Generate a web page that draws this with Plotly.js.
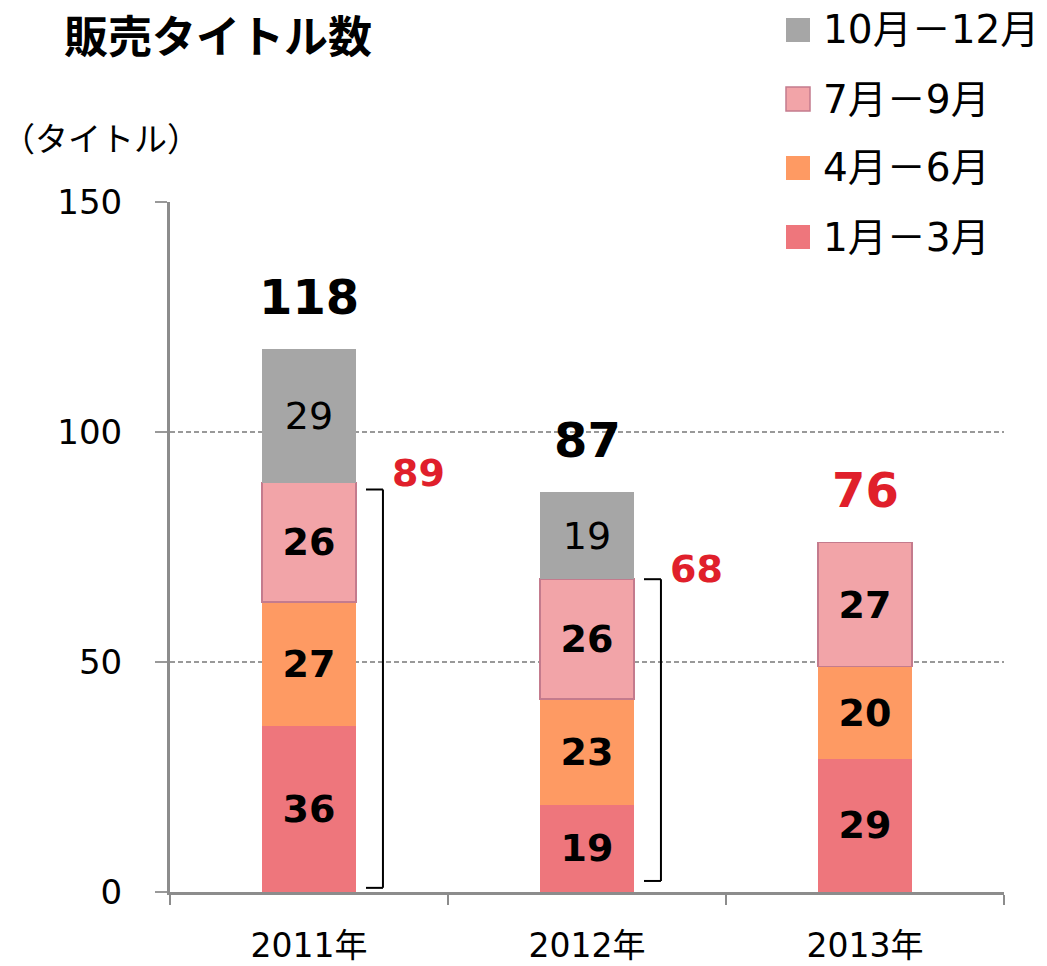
<!DOCTYPE html>
<html>
<head>
<meta charset="utf-8">
<script src="https://cdn.plot.ly/plotly-3.0.1.min.js"></script>
<style>html,body{margin:0;padding:0;background:#fff;}</style>
</head>
<body>
<div id="chart" style="width:1047px;height:966px;"></div>
<script>
// ---- data ----
const years = ['2011年', '2012年', '2013年'];
const q1 = [36, 19, 29];          // 1月－3月
const q2 = [27, 23, 20];          // 4月－6月
const q3 = [26, 26, 27];          // 7月－9月
const q4 = [29, 19, null];        // 10月－12月
const totals = [118, 87, 76];
const janToSep = [89, 68, null];
const seriesNames = ['1月－3月', '4月－6月', '7月－9月', '10月－12月'];
const chartTitle = '販売タイトル数';
const unitLabel = '（タイトル）';

// ---- styles ----
const colors = ['#ee767c', '#fe9a63', '#f2a4a8', '#a6a6a6'];
const borders = ['#ee767c', '#fe9a63', '#c47b8d', '#a6a6a6'];
const bold = [true, true, true, false];
const RED = '#e01f2b';
const NUM_FONT = 'DejaVu Sans, Noto Sans CJK JP, sans-serif';
const JP_FONT = 'Noto Sans CJK JP, sans-serif';

const series = [q1, q2, q3, q4];
const traces = series.map((vals, i) => ({
  type: 'bar',
  x: years,
  y: vals,
  name: seriesNames[i],
  marker: {color: colors[i], line: {color: borders[i], width: i === 2 ? 1.5 : 0}},
  text: vals.map(v => v == null ? '' : String(v)),
  texttemplate: '%{text}',
  textposition: 'inside',
  insidetextanchor: 'middle',
  textangle: 0,
  constraintext: 'none',
  textfont: {family: NUM_FONT, size: 38, color: '#000', weight: bold[i] ? 'bold' : 'normal'},
  showlegend: false,
  hoverinfo: 'skip'
}));

// plot area in pixels: x 170..1004, y 202..892
const L = 170, R = 1004, T = 202, B = 892;
const px = x => (x - L) / (R - L);
const py = y => (B - y) / (B - T);

const annotations = [];
const shapes = [];

// totals above bars
totals.forEach((t, i) => {
  annotations.push({
    x: i, y: t, xref: 'x', yref: 'y', text: String(t), showarrow: false,
    yshift: 52, yanchor: 'middle', xanchor: 'center',
    font: {family: NUM_FONT, size: 48, color: q4[i] == null ? RED : '#000', weight: 'bold'}
  });
});

// brackets for Jan-Sep sums
janToSep.forEach((v, i) => {
  if (v == null) return;
  const xa = i + 0.205, xb = i + 0.266;
  const top = i === 0 ? v - 1.5 : v;
  const bot = i === 0 ? 0.9 : 2.4;
  const ln = {color: '#000', width: 2};
  shapes.push({type: 'line', xref: 'x', yref: 'y', x0: xa, x1: xb, y0: top, y1: top, line: ln});
  shapes.push({type: 'line', xref: 'x', yref: 'y', x0: xb, x1: xb, y0: top, y1: bot, line: ln});
  shapes.push({type: 'line', xref: 'x', yref: 'y', x0: xa, x1: xb, y0: bot, y1: bot, line: ln});
  annotations.push({
    x: i + 0.395, y: v, xref: 'x', yref: 'y', text: String(v), showarrow: false,
    yshift: 10, yanchor: 'middle', xanchor: 'center',
    font: {family: NUM_FONT, size: 38, color: RED, weight: 'bold'}
  });
});

// custom legend (top item = last series)
const rowY = [30, 99, 168, 237];
for (let k = 0; k < 4; k++) {
  const si = 3 - k;
  const cy = rowY[k];
  shapes.push({
    type: 'rect', xref: 'paper', yref: 'paper',
    x0: px(786), x1: px(810), y0: py(cy + 12), y1: py(cy - 12),
    fillcolor: colors[si], line: {color: borders[si], width: si === 2 ? 1.5 : 0}
  });
  annotations.push({
    x: px(821), y: py(cy), xref: 'paper', yref: 'paper', text: seriesNames[si],
    showarrow: false, xanchor: 'left', yanchor: 'middle',
    font: {family: NUM_FONT, size: 39, color: '#000'}
  });
}

// title (kept fully inside the page) and unit label
annotations.push({
  x: px(62), y: py(0), xref: 'paper', yref: 'paper', text: chartTitle,
  showarrow: false, xanchor: 'left', yanchor: 'top',
  font: {family: JP_FONT, size: 44, color: '#000', weight: 'bold'}
});
annotations.push({
  x: px(0), y: py(137), xref: 'paper', yref: 'paper', text: unitLabel,
  showarrow: false, xanchor: 'left', yanchor: 'middle',
  font: {family: JP_FONT, size: 33, color: '#000'}
});

const layout = {
  width: 1047, height: 966,
  margin: {l: L, r: 1047 - R, t: T, b: 966 - B, pad: 0},
  paper_bgcolor: '#fff', plot_bgcolor: '#fff',
  barmode: 'stack',
  bargap: 0.662,
  showlegend: false,
  hovermode: false,
  xaxis: {
    type: 'category',
    tickson: 'boundaries',
    ticks: 'outside', ticklen: 10, tickwidth: 2, tickcolor: '#8c8c8c',
    showline: true, linecolor: '#8c8c8c', linewidth: 3,
    showgrid: false, zeroline: false,
    ticklabelstandoff: 22,
    tickfont: {family: NUM_FONT, size: 33, color: '#000'},
    fixedrange: true
  },
  yaxis: {
    range: [0, 150], dtick: 50, tick0: 0,
    ticks: 'outside', ticklen: 12, tickwidth: 2, tickcolor: '#999',
    showline: true, linecolor: '#8c8c8c', linewidth: 3,
    showgrid: true, gridcolor: '#999', gridwidth: 1.4, griddash: '5px,3px',
    zeroline: false,
    ticklabelstandoff: 26,
    tickfont: {family: NUM_FONT, size: 34, color: '#000'},
    fixedrange: true
  },
  annotations: annotations,
  shapes: shapes
};

Plotly.newPlot('chart', traces, layout, {staticPlot: true, displayModeBar: false});
</script>
</body>
</html>
